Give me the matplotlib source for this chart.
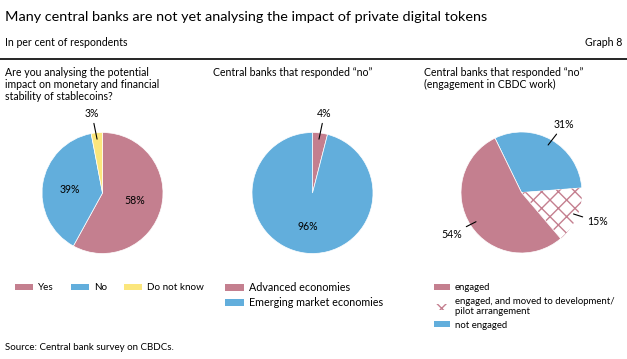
import matplotlib
matplotlib.use("Agg")
import matplotlib.pyplot as plt
from matplotlib.patches import Patch

plt.rcParams['font.family'] = ['Lato', 'DejaVu Sans']
plt.rcParams['hatch.linewidth'] = 1.0

# data
q1_labels = ["Yes", "No", "Do not know"]
q1_values = [58, 39, 3]
q2_labels = ["Advanced economies", "Emerging market economies"]
q2_values = [4, 96]
q3_labels = ["not engaged", "engaged, and moved to development/\npilot arrangement", "engaged"]
q3_values = [31, 15, 54]

PINK = "#c47f8f"
BLUE = "#62aedc"
YELLOW = "#fbe67c"

W, H = 627, 359
fig = plt.figure(figsize=(W / 100, H / 100), dpi=100)

def fx(px):
    return px / W

def fy(py):
    return 1 - py / H

FS = 7.6

# header
fig.text(fx(5), fy(17), "Many central banks are not yet analysing the impact of private digital tokens",
         fontsize=10.4, va="center", ha="left")
fig.text(fx(5), fy(43), "In per cent of respondents", fontsize=FS, va="center")
fig.text(fx(622), fy(43), "Graph 8", fontsize=FS, va="center", ha="right")
fig.add_artist(plt.Line2D([0, 1], [fy(58.5), fy(58.5)], color="black", lw=1.2))

fig.text(fx(5), fy(67), "Are you analysing the potential\nimpact on monetary and financial\nstability of stablecoins?",
         fontsize=FS, va="top", linespacing=1.12)
fig.text(fx(213), fy(67), "Central banks that responded \u201cno\u201d", fontsize=FS, va="top")
fig.text(fx(424), fy(67), "Central banks that responded \u201cno\u201d\n(engagement in CBDC work)",
         fontsize=FS, va="top", linespacing=1.12)
fig.text(fx(5), fy(348), "Source: Central bank survey on CBDCs.", fontsize=7.0, va="center")

R = 60.5

def pie_axes(cx, cy, w=200, h=160):
    ax = fig.add_axes([fx(cx - w / 2), fy(cy + h / 2), w / W, h / H])
    return ax, w / 2 / R, h / 2 / R

def finish(ax, xl, yl):
    ax.set_xlim(-xl, xl)
    ax.set_ylim(-yl, yl)
    ax.set_aspect("equal", adjustable="box")
    ax.axis("off")

def label(ax, text, pos, xy=None):
    if xy is None:
        ax.text(pos[0], pos[1], text, fontsize=FS, ha="center", va="center")
    else:
        ax.annotate(text, xy=xy, xytext=pos, fontsize=FS, ha="center", va="center",
                    arrowprops=dict(arrowstyle="-", lw=0.8, color="black", shrinkA=1, shrinkB=0))

wp = dict(linewidth=0.5, edgecolor="white")

# pie 1
ax1, xl, yl = pie_axes(102.5, 193)
ax1.pie(q1_values, colors=[PINK, BLUE, YELLOW], startangle=90, counterclock=False,
        radius=1, wedgeprops=wp)
finish(ax1, xl, yl)
label(ax1, "58%", (0.537, -0.132))
label(ax1, "39%", (-0.537, 0.066))
label(ax1, "3%", (-0.174, 1.31), xy=(-0.09, 0.89))

# pie 2
ax2, xl, yl = pie_axes(312.5, 193)
ax2.pie(q2_values, colors=[PINK, BLUE], startangle=90, counterclock=False,
        radius=1, wedgeprops=wp)
finish(ax2, xl, yl)
label(ax2, "4%", (0.195, 1.31), xy=(0.107, 0.89))
label(ax2, "96%", (-0.07, -0.557))

# pie 3
ax3, xl, yl = pie_axes(521.5, 192.5)
wedges, _ = ax3.pie(q3_values, colors=[BLUE, "white", PINK], startangle=116, counterclock=False,
                    radius=1, wedgeprops=wp)
wedges[1].set_hatch("xx")
wedges[1].set_edgecolor(PINK)
wedges[1].set_linewidth(0)
finish(ax3, xl, yl)
label(ax3, "31%", (0.70, 1.12), xy=(0.44, 0.785))
label(ax3, "15%", (1.25, -0.48), xy=(0.86, -0.355))
label(ax3, "54%", (-1.15, -0.686), xy=(-0.752, -0.483))

# legends
leg_kw = dict(frameon=False, handleheight=0.6, borderpad=0, borderaxespad=0, loc="upper left")

h1 = [Patch(facecolor=c, label=l) for c, l in zip([PINK, BLUE, YELLOW], q1_labels)]
fig.legend(handles=h1, ncol=3, fontsize=7.1, handlelength=1.83, handletextpad=0.5,
           columnspacing=1.75, bbox_to_anchor=(fx(15), fy(283.5)), **leg_kw)

h2 = [Patch(facecolor=c, label=l) for c, l in zip([PINK, BLUE], q2_labels)]
fig.legend(handles=h2, ncol=1, fontsize=7.75, handlelength=1.77, handletextpad=0.47,
           labelspacing=0.4, bbox_to_anchor=(fx(225), fy(282)), **leg_kw)

h3 = [Patch(facecolor=PINK, label=q3_labels[2]),
      Patch(facecolor="white", edgecolor=PINK, hatch="xx", linewidth=0, label=q3_labels[1]),
      Patch(facecolor=BLUE, label=q3_labels[0])]
fig.legend(handles=h3, ncol=1, fontsize=6.9, handlelength=1.67, handletextpad=0.52,
           labelspacing=0.45, bbox_to_anchor=(fx(434), fy(283.5)), **leg_kw)

fig.savefig("out.png", dpi=100)
